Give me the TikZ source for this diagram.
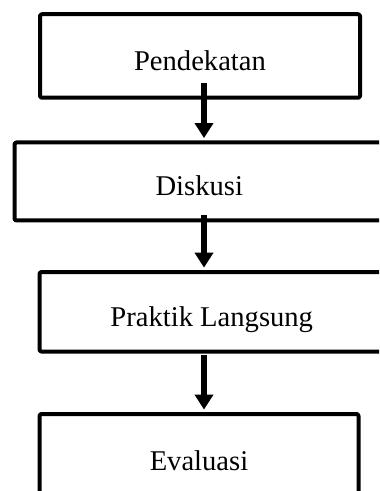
\documentclass[tikz,border=0pt]{standalone}
\usepackage{fontspec}
\setmainfont{Liberation Serif}
\usetikzlibrary{arrows.meta, positioning}

\begin{document}
\begin{tikzpicture}[x=0.5pt, y=0.5pt, line join=round,
        every node/.style={font=\fontsize{14.3}{17}\selectfont},
        langkah/.style={draw, line width=2pt, rounded corners=1pt, inner sep=0pt, text height=14.5pt, text depth=0pt},
        panah/.style={-{Triangle[width=9pt,length=7.5pt]}, line width=3.2pt, shorten >=1.2pt}]
        \useasboundingbox (0,0) rectangle (379,-491);
        \clip (0,0) rectangle (379,-491);
        \node[langkah, minimum width=160pt, minimum height=41.75pt] (p1) at (200,-56) {Pendekatan};
        \node[langkah, minimum width=184.75pt, minimum height=39pt] (p2) at (199.25,-181.5) {Diskusi};
        \node[langkah, minimum width=172.25pt, minimum height=39.75pt] (p3) at (211.75,-311.8) {Praktik Langsung};
        \node[langkah, minimum width=159.5pt, minimum height=41.5pt] (p4) at (199,-455.5) {Evaluasi};
        \coordinate (a1) at (204,-83);
        \coordinate (a2) at (204,-215);
        \coordinate (a3) at (204,-355);
        \draw[panah] (a1) -- (a1 |- p2.north);
        \draw[panah] (a2) -- (a2 |- p3.north);
        \draw[panah] (a3) -- (a3 |- p4.north);
    \end{tikzpicture}
\end{document}
